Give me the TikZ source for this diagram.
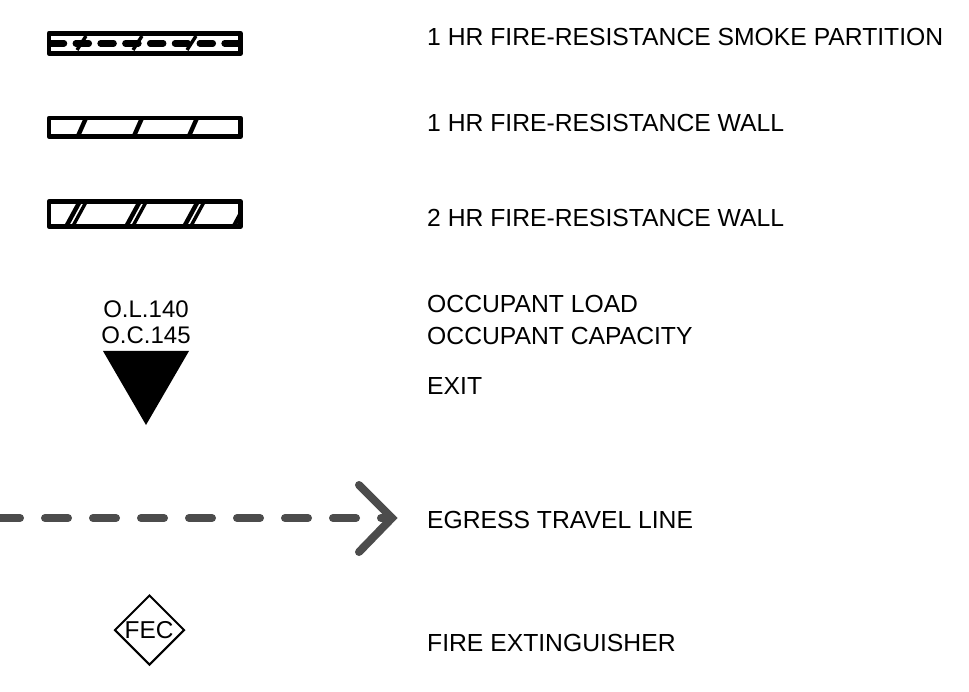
\documentclass[tikz,border=0pt]{standalone}
\usepackage{fontspec}
\setmainfont{Liberation Sans}
\usetikzlibrary{shapes.geometric}
\tikzset{
  legendtext/.style={anchor=base west, inner sep=0pt, font=\fontsize{24.7}{28}\selectfont},
  exittext/.style={anchor=base, inner sep=0pt, font=\fontsize{24}{28}\selectfont},
  wallbox/.style={line width=4.7pt, line join=round},
  hatch/.style={line width=4.4pt},
  hatchthin/.style={line width=3.4pt},
  travel/.style={line width=8pt, color=black!70, line cap=round}
}
\begin{document}
\begin{tikzpicture}[x=1pt,y=-1pt]
\useasboundingbox (0,0) rectangle (969,692);
\node[legendtext] (txt0) at (427,46){1 HR FIRE-RESISTANCE SMOKE PARTITION};
\node[legendtext] (txt1) at (427,132){1 HR FIRE-RESISTANCE WALL};
\node[legendtext] (txt2) at (427,227){2 HR FIRE-RESISTANCE WALL};
\node[legendtext] (txt3) at (427,313){OCCUPANT LOAD};
\node[legendtext] (txt4) at (427,345){OCCUPANT CAPACITY};
\node[legendtext] (txt5) at (427,395){EXIT};
\node[legendtext] (txt6) at (427,528){EGRESS TRAVEL LINE};
\node[legendtext] (txt7) at (427,651){FIRE EXTINGUISHER};
% smoke partition
\draw[wallbox] (49,33.3) rectangle (240.5,53.4);
\draw[line width=6.5pt, dash pattern=on 13pt off 11.8pt, line cap=round] (51,43.3) -- (238,43.3);
\foreach \xa in {77,133,187}{
  \draw[hatchthin] (\xa,50) -- (\xa+9,36);
}
% one hour wall
\draw[wallbox] (49,118) rectangle (240.5,136.5);
\foreach \xa in {78,134,189}{
  \draw[hatch] (\xa,136) -- (\xa+8,118);
}
% two hour wall
\draw[wallbox] (49,201.5) rectangle (240.5,226.5);
\foreach \xa in {67,127,185}{
  \draw[hatch] (\xa,225) -- (\xa+12,203);
  \draw[hatchthin] (\xa+6.5,225) -- (\xa+18.5,203);
}
\draw[hatch] (234,226) -- (241,213);
% exit
\node[exittext] (ol) at (146,318){O.L.140};
\node[exittext] (oc) at (146,344){O.C.145};
\fill (103,351) -- (189,351) -- (146,425) -- cycle;
% travel line
\coordinate (start) at (0,518);
\coordinate (tip) at (392,518);
\coordinate (barbup) at (359,485);
\coordinate (barbdn) at (359,552);
\draw[travel, dash pattern=on 23pt off 25pt, dash phase=3pt] (start) -- (tip);
\draw[travel, line join=miter] (barbup) -- (tip) -- (barbdn);
% extinguisher
\node[diamond, draw, line width=2pt, minimum width=70pt, minimum height=70pt, inner sep=0pt] (fec) at (149.5,630){};
\node[inner sep=0pt, font=\fontsize{24.4}{28}\selectfont] (fectxt) at (149,630){FEC};
\end{tikzpicture}
\end{document}
